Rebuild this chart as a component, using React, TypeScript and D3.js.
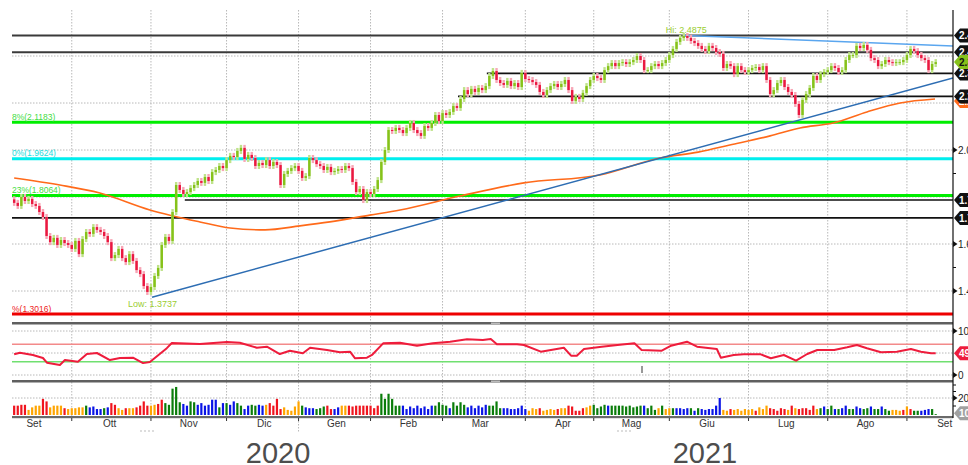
import React from 'react';
import * as d3 from 'd3';

// ---- daily closes (Sep 2020 -> Sep 2021) ----
const closes: number[] = [
  // Set
  1.775,1.762,1.800,1.783,1.792,1.770,1.762,1.736,1.715,1.634,1.608,1.626,1.596,1.617,1.604,1.596,
  // Ott
  1.579,1.613,1.557,1.621,1.651,1.643,1.672,1.660,1.651,1.634,1.608,1.540,1.553,1.579,1.540,1.523,1.557,1.528,1.489,1.472,1.421,1.396,
  // Nov
  1.417,1.464,1.498,1.596,1.630,1.613,1.736,1.851,1.830,1.813,1.821,1.838,1.851,1.868,1.860,1.885,1.868,1.906,1.915,1.932,1.923,
  // Dic
  1.957,1.975,1.970,1.996,2.009,1.962,1.979,1.966,1.932,1.945,1.936,1.957,1.932,1.949,1.936,1.851,1.898,1.911,1.923,1.932,
  // Gen
  1.911,1.881,1.889,1.966,1.957,1.940,1.932,1.915,1.928,1.906,1.911,1.919,1.915,1.932,1.923,1.864,1.821,1.834,1.787,1.821,
  // Feb
  1.813,1.834,1.872,1.949,2.000,2.085,2.081,2.094,2.085,2.072,2.094,2.115,2.085,2.072,2.060,2.102,2.094,2.115,2.149,2.123,
  // Mar
  2.157,2.149,2.162,2.187,2.179,2.217,2.255,2.238,2.260,2.247,2.264,2.255,2.272,2.315,2.336,2.298,2.285,2.277,2.294,2.272,2.285,2.268,2.328,
  // Apr
  2.302,2.298,2.289,2.277,2.247,2.234,2.255,2.272,2.281,2.268,2.281,2.298,2.255,2.209,2.226,2.217,2.243,2.272,2.298,
  // Mag
  2.315,2.306,2.298,2.340,2.357,2.370,2.357,2.370,2.374,2.366,2.374,2.383,2.400,2.383,2.340,2.340,2.357,2.366,2.357,2.370,2.383,
  // Giu
  2.404,2.430,2.460,2.477,2.485,2.477,2.464,2.455,2.443,2.430,2.421,2.443,2.434,2.417,2.409,2.349,2.366,2.357,2.323,2.357,2.340,2.332,
  // Lug
  2.340,2.349,2.353,2.340,2.357,2.298,2.238,2.255,2.285,2.298,2.268,2.247,2.234,2.196,2.149,2.213,2.238,2.264,2.315,2.298,2.323,2.332,
  // Ago
  2.340,2.357,2.349,2.332,2.340,2.383,2.404,2.404,2.443,2.434,2.447,2.426,2.391,2.383,2.357,2.366,2.383,2.374,2.370,2.374,2.374,2.383,
  // Set
  2.404,2.430,2.421,2.404,2.391,2.383,2.340,2.366,2.374,
];
const firstOpen = 1.790;

const volumes: number[] = [
  11,11,12,12, 6,9,11,11, 19,16, 9,11,11,11, 8, 7,8,8,9,9, 11, 9,10,7,7, 8,9, 14,12, 8,6, 8,8, 8,9,11,16, 11,11, 12,13,
  18,14,12,31,33, 15,13, 11,16, 15,12,14,11,12,18, 18,9,14, 14,12, 16,14, 11,7, 11,12, 11,12, 11, 12,14,11,19, 7,9,6,5,10,
  16, 11,9,8, 8,7,8, 10,11, 7,7, 9,11, 11,11,10,11,11,11,11,11,8, 11,25,19,25,19,11, 11,11,7,10,8,11,8,10,7, 11,11,15,12, 11,
  8,15,11,15, 12,9,11,8,11,9,
  12,11,11,16, 8,8,8,7,7,8,11, 7,5,8, 7, 8,5,6, 7, 6, 7,8,8,11,10, 5,5, 8,9,11,12, 8, 10,12,11,11,11,11,11,10,11, 9, 10,11,11,
  8, 11, 6,8, 11, 7,8,8,8, 8, 7, 8, 8,5,8,7,6,7, 7,11, 20, 6,5,7,6,7,5, 7, 6,7,5, 9,7,11,8,7, 5, 8, 7,6, 11,8,7,8,8, 6, 11, 7,
  8,10, 7, 11, 7,7, 8,11, 7,7, 10,8, 7, 8,10, 7, 7,10, 7,5,6, 6, 5, 6, 10,7, 5,5,5, 6,7, 7, 1,
];
// R = red, O = orange, B = blue, G = green
const volColors =
  'RRRROOOORROOOOROOOOOGBBBBGBRROOROORRRROORRGGGGGBBGGBBBBBBGBGBBGGBBGGBBORRRROOOOOGBBBGGGRRBBOORRRRRRRRRGGGGGGBBBBBBBBBGGGGBGGGGBBBBBB' +
  'GGGGBBBBBBBOOOROOOOROORRRRROOGGGGBGGGGGGGGGBGGGOGOOGBBBBGBGBBBBBBOOROOOOOOROOORRRRRORORRRRROGBGGBGBBGGBBGGBGGBGGOOORORGGBBBGGBO';

const rsiIdx = [0,1.6,5.2,8,9.1,12.7,14.1,17.7,20.2,23,26.6,29.4,33,35.8,37.7,42.4,43.8,51.6,59.1,62.7,67.4,70.2,73.8,76.6,80.2,82.2,86.9,90.5,93.3,94.7,98,99.4,102.5,107.2,111.9,116.3,121.1,125.8,130.2,132.4,134.1,139.7,141.6,146.3,152.7,154.7,156.3,158.3,163.2,167.6,172.3,174.3,179.9,182.5,186.9,189.7,195.2,196.3,199.9,202.7,207.4,210.2,213.8,217.2,220.3,223.1,227.8,231.4,234.1,236.9,240.8,245.2,249.1,251.9,254.7,256];
const rsiVal = [47,50.7,45.5,38.6,28,22.7,34,30,47.7,50,34,38.6,39.3,27,29.5,61,72.7,70.5,75,73.4,62,64.3,47.7,55.2,49.3,62,56.8,51.6,53,38,39.3,45.5,72,73.4,66.6,72,75.7,81,79.5,81.8,69.8,69.8,68.2,53,62,43.9,43.9,59,64.3,68.2,72,56.8,55.2,66.6,75.7,64.3,59,39.3,45.5,47,47,38,45.5,32.5,47.7,56.8,56.8,63,68.2,60.7,51.6,53,59,53,49.3,49.3];

const maIdx = [0,12.7,23.8,37.7,51.6,60,69.7,79.4,87.7,98.8,107.2,123.8,141.6,162.7,179.4,190,198.8,210,218.3,227.5,236.9,246.1,255.8];
const maVal = [1.881,1.851,1.817,1.745,1.694,1.668,1.660,1.677,1.694,1.723,1.745,1.804,1.860,1.894,1.966,1.991,2.021,2.060,2.094,2.115,2.162,2.200,2.217];

const monthLabels = ['Set','Ott','Nov','Dic','Gen','Feb','Mar','Apr','Mag','Giu','Lug','Ago','Set'];
const monthStarts = [-5,16,38,59,79,99,119,142,161,182,204,226,248];
const yearLabels = ['2020','2021'];
const yearIdx = [73.3,191.9];

const gridPrices = [2.4,2.2,2.0,1.8,1.6,1.4];
const priceTickLabels = [2.0,1.6,1.4];
const priceMinor = [1.9,1.5];

const levelVals = [2.4875,2.416,2.326,2.228,1.787,1.711];
const levelStart = [-1,-1,131.3,123.3,47.4,-1];

const fibVals = [2.1183,1.9624,1.8064,1.3016];
const fibLabels = ['8%(2.1183)','0%(1.9624)','23%(1.8064)','%(1.3016)'];
const fibColors = ['#00ee00','#00eeee','#00ee00','#ee0000'];
const fibTextColors = ['#44dd44','#22dddd','#44dd44','#ee2222'];

const hiIdx = 186, hiVal = 2.4875;
const lowIdx = 38, lowVal = 1.3737;
const trendUpIdx = [38.3,260.8], trendUpVal = [1.3737,2.306];
const trendDnIdx = [186.3,260.8], trendDnVal = [2.4875,2.4426];

const rsiLevels = [70,30];
const rsiGrid = [100,50,0];

const volColorMap: Record<string,string> = { R:'#f0141e', O:'#ffa500', B:'#0a14e6', G:'#0a7d0a' };

export default function App() {
  const L = 12, R = 953;
  const x = d3.scaleLinear().domain([-0.6, 260.8]).range([L, R]);
  const y = d3.scaleLinear().domain([1.2, 2.6]).range([338, 9]);
  const ry = d3.scaleLinear().domain([0, 100]).range([375, 331]);
  const vy = d3.scaleLinear().domain([0, 20]).range([415, 398]);

  const opens = closes.map((c, i) => (i === 0 ? firstOpen : closes[i - 1]));
  const last = closes[closes.length - 1];

  const maLine = d3.line<number>().x((_, i) => x(maIdx[i])).y(v => y(v)).curve(d3.curveMonotoneX)(maVal) || '';
  const rsiLine = d3.line<number>().x((_, i) => x(rsiIdx[i])).y(v => ry(v))(rsiVal) || '';

  const font = "'Liberation Sans', Arial, sans-serif";
  const badge = (yc: number, fill: string, tf: string, text: string, key: string) => (
    <g key={key}>
      <path d={`M954,${yc} L960,${yc - 7} L975,${yc - 7} L975,${yc + 7} L960,${yc + 7} Z`} fill={fill} />
      <text x={959} y={yc + 3.6} fontSize={10} fontWeight="bold" fill={tf} fontFamily={font}>{text}</text>
    </g>
  );
  const tri = (yc: number, key: string) => (
    <path key={key} d={`M953,${yc - 3} L957.5,${yc} L953,${yc + 3} Z`} fill="#111" />
  );

  return (
    <div style={{ position: 'absolute', left: 0, top: 0 }}>
      <svg width={968} height={465} style={{ display: 'block', background: '#fff' }}>
        <defs>
          <clipPath id="mainClip"><rect x={L} y={10} width={R - L} height={312} /></clipPath>
          <clipPath id="rsiClip"><rect x={L} y={325} width={R - L} height={55} /></clipPath>
        </defs>

        {/* vertical month grid */}
        {monthStarts.slice(1).map((m, k) => (
          <line key={'vg' + k} x1={x(m)} x2={x(m)} y1={10} y2={monthLabels[k + 1] === 'Gen' ? 432 : 417}
            stroke="#b8b8b8" strokeDasharray="1.5,1.5" />
        ))}
        {/* horizontal grids */}
        {gridPrices.map(p => (
          <line key={'hg' + p} x1={L} x2={R} y1={y(p)} y2={y(p)} stroke="#b8b8b8" strokeDasharray="1.5,1.5" />
        ))}
        {rsiGrid.map(p => (
          <line key={'rg' + p} x1={L} x2={R} y1={ry(p)} y2={ry(p)} stroke="#b8b8b8" strokeDasharray="1.5,1.5" />
        ))}
        <line x1={L} x2={R} y1={vy(20)} y2={vy(20)} stroke="#b8b8b8" strokeDasharray="1.5,1.5" />

        <g clipPath="url(#mainClip)">
          {/* fib lines */}
          {fibVals.map((v, k) => (
            <line key={'fib' + k} x1={L} x2={R} y1={y(v)} y2={y(v)} stroke={fibColors[k]} strokeWidth={3} />
          ))}
          {/* level lines */}
          {levelVals.map((v, k) => (
            <line key={'lv' + k} x1={levelStart[k] < 0 ? L : x(levelStart[k])} x2={R} y1={y(v)} y2={y(v)}
              stroke={k < 2 ? '#3a3a3a' : '#111'} strokeWidth={k < 2 ? 2 : 1.6} />
          ))}
          {/* moving average */}
          <path d={maLine} fill="none" stroke="#ff6a1a" strokeWidth={1.6} />
          {/* trend lines */}
          <line x1={x(trendUpIdx[0])} y1={y(trendUpVal[0])} x2={x(trendUpIdx[1])} y2={y(trendUpVal[1])} stroke="#2d6db3" strokeWidth={1.5} />
          <line x1={x(trendDnIdx[0])} y1={y(trendDnVal[0])} x2={x(trendDnIdx[1])} y2={y(trendDnVal[1])} stroke="#5aa6ef" strokeWidth={1.5} />
          {/* candles */}
          {closes.map((c, i) => {
            const o = opens[i];
            const up = c >= o;
            const top = y(Math.max(o, c));
            const bot = y(Math.min(o, c));
            const cx = x(i);
            return (
              <g key={'c' + i}>
                <rect x={cx - 1.2} y={top - 3} width={2.4} height={bot - top + 6} fill={up ? '#bfe38a' : '#f7a6b6'} />
                <rect x={cx - 1.2} y={top} width={2.4} height={Math.max(1, bot - top)} fill={up ? '#86c21a' : '#ea1840'} />
              </g>
            );
          })}
          {/* fib labels */}
          {fibVals.map((v, k) => (
            <text key={'fl' + k} x={L} y={y(v) - 2.5} fontSize={8.5} fill={fibTextColors[k]} fontFamily={font}>{fibLabels[k]}</text>
          ))}
          <text x={x(hiIdx) - 18} y={y(hiVal) - 2.5} fontSize={9} fill="#9acd32" fontFamily={font}>{`Hi: ${hiVal}`}</text>
          <text x={x(lowIdx) - 23} y={y(lowVal) + 10} fontSize={9} fill="#9acd32" fontFamily={font}>{`Low: ${lowVal}`}</text>
        </g>

        {/* RSI panel */}
        <g clipPath="url(#rsiClip)">
          <line x1={L} x2={R} y1={ry(rsiLevels[0])} y2={ry(rsiLevels[0])} stroke="#f38a8a" strokeWidth={1.6} />
          <line x1={L} x2={R} y1={ry(rsiLevels[1])} y2={ry(rsiLevels[1])} stroke="#70e070" strokeWidth={1.6} />
          <path d={rsiLine} fill="none" stroke="#ee1c3c" strokeWidth={2} strokeLinejoin="round" />
          <line x1={642} x2={642} y1={366} y2={373} stroke="#333" strokeWidth={1} />
        </g>

        {/* volume bars */}
        {volumes.map((v, i) => (
          <rect key={'v' + i} x={x(i) - 1.1} y={vy(v)} width={2.2} height={vy(0) - vy(v)} fill={volColorMap[volColors[i]] || '#888'} />
        ))}

        {/* separators */}
        <rect x={L} y={322} width={R - L} height={2.5} fill="#5f5f5f" />
        <rect x={L} y={380} width={R - L} height={2.5} fill="#5f5f5f" />
        <rect x={491} y={322.5} width={9} height={1.5} fill="#bbb" />
        <rect x={491} y={380.5} width={9} height={1.5} fill="#bbb" />
        <rect x={L} y={416} width={R - L} height={2.2} fill="#6a6a6a" />
        {monthStarts.slice(1).map((m, k) => (
          <line key={'mt' + k} x1={x(m)} x2={x(m)} y1={418} y2={421} stroke="#333" />
        ))}

        {/* right axis */}
        <line x1={R} x2={R} y1={10} y2={418} stroke="#111" strokeWidth={1.2} />
        {priceTickLabels.map(p => (
          <g key={'pt' + p}>
            {tri(y(p), 'tr' + p)}
            <text x={958} y={y(p) + 3.5} fontSize={10} fill="#222" fontFamily={font}>{p.toFixed(1)}</text>
          </g>
        ))}
        {priceMinor.map(p => (
          <line key={'pm' + p} x1={R} x2={956} y1={y(p)} y2={y(p)} stroke="#111" />
        ))}
        {tri(ry(100), 'r100')}
        <text x={958} y={ry(100) + 3.5} fontSize={10} fill="#222" fontFamily={font}>100</text>
        {tri(ry(0), 'r0')}
        <text x={958} y={ry(0) + 3.5} fontSize={10} fill="#222" fontFamily={font}>0</text>
        {tri(vy(20), 'v20')}
        <text x={958} y={vy(20) + 3.5} fontSize={10} fill="#222" fontFamily={font}>20</text>
        {[385, 391.5, 406].map(t => <line key={'vm' + t} x1={R} x2={956} y1={t} y2={t} stroke="#111" />)}

        {/* badges */}
        {badge(y(maVal[maVal.length - 1]) + 2, '#ff6a1a', '#fff', maVal[maVal.length - 1].toFixed(4), 'bma')}
        {levelVals.map((v, k) => badge(y(v), '#111', '#fff', v.toFixed(4), 'bl' + k))}
        {badge(y(last), '#86c21a', '#111', last.toFixed(4), 'blast')}
        {badge(ry(rsiVal[rsiVal.length - 1]), '#ee1c3c', '#fff', rsiVal[rsiVal.length - 1].toFixed(2), 'brsi')}
        {badge(vy(volumes[volumes.length - 1]) - 1, '#a0a0a0', '#fff', '10.5', 'bvol')}

        {/* month labels */}
        {monthLabels.map((m, k) => (
          <text key={'ml' + k} x={x(monthStarts[k] + 10.5)} y={427} fontSize={10} fill="#333" textAnchor="middle" fontFamily={font}>{m}</text>
        ))}
        <line x1={140} x2={156} y1={431} y2={431} stroke="#bbb" strokeDasharray="2,2" />
        <line x1={617} x2={633} y1={431} y2={431} stroke="#bbb" strokeDasharray="2,2" />

        {/* years */}
        {yearLabels.map((t, k) => (
          <text key={'yr' + k} x={x(yearIdx[k])} y={463} fontSize={29} fill="#4d4d4d" textAnchor="middle" fontFamily={font}>{t}</text>
        ))}
      </svg>
    </div>
  );
}
